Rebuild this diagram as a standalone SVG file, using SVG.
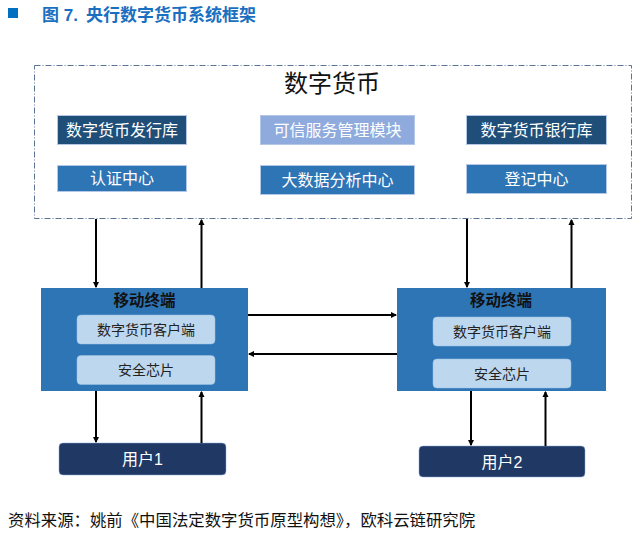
<svg xmlns="http://www.w3.org/2000/svg" width="644" height="534" viewBox="0 0 644 534">
<defs>
<style>
text{font-family:"Liberation Sans","Noto Sans CJK SC",sans-serif;}
.w{fill:#ffffff;font-size:16px;text-anchor:middle;}
.k{fill:#222222;font-size:14px;text-anchor:middle;}
.hd{fill:#111111;font-size:15.5px;font-weight:bold;text-anchor:middle;}
.dk{fill:#1f4e79;stroke:#b4c7e7;stroke-width:1;}
.md{fill:#2e75b6;stroke:#b4c7e7;stroke-width:1;}
.lt{fill:#8faadc;stroke:#b4c7e7;stroke-width:1;}
.term{fill:#2e75b6;}
.inner{fill:#bdd7ee;stroke:#9dc3e6;stroke-width:0.5;}
.user{fill:#1f3864;stroke:#8faadc;stroke-width:0.5;}
.ln{stroke:#000000;stroke-width:2;fill:none;marker-end:url(#ah);}
</style>
<marker id="ah" viewBox="0 0 6 6" refX="5" refY="3" markerWidth="3.2" markerHeight="3.2" orient="auto">
<path d="M0,0 L6,3 L0,6 Z" fill="#000000"/>
</marker>
</defs>
<rect width="644" height="534" fill="#ffffff"/>
<g id="title">
<rect x="8" y="8" width="10" height="10" fill="#0070c0"/>
<text x="42" y="21" style="font-size:17px;font-weight:bold;fill:#1a6fc0;">图 7.<tspan x="86">央行数字货币系统框架</tspan></text>
</g>
<g id="dcbox">
<rect x="34.5" y="65.5" width="597" height="153" fill="none" stroke="#5b7593" stroke-width="1" stroke-dasharray="6,2,1,2"/>
<text x="332" y="92" style="font-size:24px;fill:#111111;text-anchor:middle;">数字货币</text>
</g>
<g id="issue"><rect class="dk" x="57.5" y="115.5" width="129" height="29"/><text class="w" x="122" y="135.5">数字货币发行库</text></g>
<g id="tsm"><rect class="lt" x="260.5" y="115.5" width="154" height="29"/><text class="w" x="337.5" y="135.5">可信服务管理模块</text></g>
<g id="bank"><rect class="dk" x="466.5" y="115.5" width="140" height="29"/><text class="w" x="536.5" y="135.5">数字货币银行库</text></g>
<g id="auth"><rect class="md" x="57.5" y="165.5" width="129" height="26"/><text class="w" x="122" y="184">认证中心</text></g>
<g id="bigdata"><rect class="md" x="260.5" y="165.5" width="154" height="29"/><text class="w" x="337.5" y="186">大数据分析中心</text></g>
<g id="register"><rect class="md" x="466.5" y="164.5" width="140" height="29"/><text class="w" x="536.5" y="185">登记中心</text></g>
<g id="terminal1">
<rect class="term" x="41" y="288" width="207" height="103"/>
<text class="hd" x="144.5" y="305.5">移动终端</text>
<rect class="inner" x="77" y="315" width="138" height="29" rx="4"/>
<text class="k" x="146" y="334.5">数字货币客户端</text>
<rect class="inner" x="77" y="355.5" width="138" height="29" rx="4"/>
<text class="k" x="146" y="375">安全芯片</text>
</g>
<g id="terminal2">
<rect class="term" x="397" y="288" width="209" height="103"/>
<text class="hd" x="501" y="305.5">移动终端</text>
<rect class="inner" x="433" y="317" width="138" height="29" rx="4"/>
<text class="k" x="502" y="336.5">数字货币客户端</text>
<rect class="inner" x="433" y="359" width="138" height="29" rx="4"/>
<text class="k" x="502" y="378.5">安全芯片</text>
</g>
<g id="user1"><rect class="user" x="59" y="443" width="167" height="32" rx="4"/><text class="w" x="142.5" y="465">用户1</text></g>
<g id="user2"><rect class="user" x="419" y="446" width="166" height="31" rx="4"/><text class="w" x="502" y="467.5">用户2</text></g>
<g id="connectors">
<line class="ln" x1="96" y1="219" x2="96" y2="287"/>
<line class="ln" x1="201.5" y1="288" x2="201.5" y2="220"/>
<line class="ln" x1="467" y1="219" x2="467" y2="287"/>
<line class="ln" x1="571.5" y1="288" x2="571.5" y2="220"/>
<line class="ln" x1="248" y1="315" x2="396" y2="315"/>
<line class="ln" x1="397" y1="354" x2="249" y2="354"/>
<line class="ln" x1="96" y1="391" x2="96" y2="442"/>
<line class="ln" x1="201.5" y1="443" x2="201.5" y2="392"/>
<line class="ln" x1="471" y1="391" x2="471" y2="445"/>
<line class="ln" x1="545.5" y1="446" x2="545.5" y2="392"/>
</g>
<g id="source">
<text x="8" y="526" style="font-size:16.4px;fill:#111111;">资料来源：姚前《中国法定数字货币原型构想》，欧科云链研究院</text>
</g>
</svg>
